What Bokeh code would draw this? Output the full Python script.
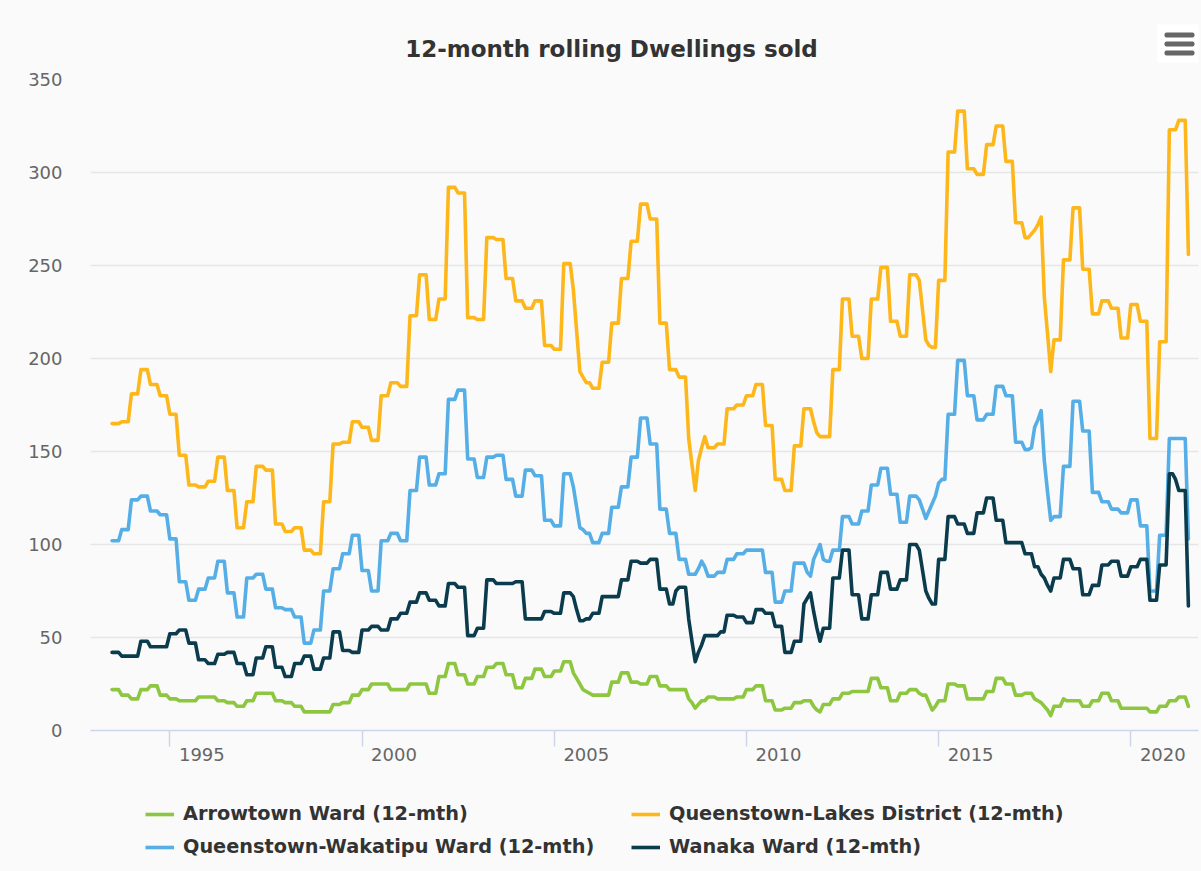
import pandas as pd
from bokeh.plotting import figure
from bokeh.layouts import column
from bokeh.models import (Range1d, FixedTicker, ColumnDataSource, Label, Legend, LegendItem,
                          BoxAnnotation, DatetimeTickFormatter)
from bokeh.embed import file_html
from bokeh.resources import INLINE

# Monthly 12-month rolling totals, July 1993 - July 2021 (one row = 12 months)
months = pd.date_range("1993-07-01", periods=337, freq="MS")

arrowtown = [
    22, 22, 22, 19, 19, 19, 17, 17, 17, 22, 22, 22,
    24, 24, 24, 19, 19, 19, 17, 17, 17, 16, 16, 16,
    16, 16, 16, 18, 18, 18, 18, 18, 18, 16, 16, 16,
    15, 15, 15, 13, 13, 13, 16, 16, 16, 20, 20, 20,
    20, 20, 20, 16, 16, 16, 15, 15, 15, 13, 13, 13,
    10, 10, 10, 10, 10, 10, 10, 10, 10, 14, 14, 14,
    15, 15, 15, 19, 19, 19, 22, 22, 22, 25, 25, 25,
    25, 25, 25, 22, 22, 22, 22, 22, 22, 25, 25, 25,
    25, 25, 25, 20, 20, 20, 29, 29, 29, 36, 36, 36,
    30, 30, 30, 25, 25, 25, 29, 29, 29, 34, 34, 34,
    36, 36, 36, 30, 30, 30, 23, 23, 23, 28, 28, 28,
    33, 33, 33, 29, 29, 29, 32, 32, 32, 37, 37, 37,
    31, 28, 25, 22, 21, 20, 19, 19, 19, 19, 19, 19,
    26, 26, 26, 31, 31, 31, 26, 26, 26, 25, 25, 25,
    29, 29, 29, 24, 24, 24, 22, 22, 22, 22, 22, 22,
    17, 15, 12, 14, 16, 16, 18, 18, 18, 17, 17, 17,
    17, 17, 17, 18, 18, 18, 22, 22, 22, 24, 24, 24,
    16, 16, 16, 11, 11, 11, 12, 12, 12, 15, 15, 15,
    16, 16, 16, 13, 11, 10, 14, 14, 14, 17, 17, 17,
    20, 20, 20, 21, 21, 21, 21, 21, 21, 28, 28, 28,
    23, 23, 23, 16, 16, 16, 20, 20, 20, 22, 22, 22,
    20, 19, 19, 15, 11, 13, 16, 16, 16, 25, 25, 25,
    24, 24, 24, 17, 17, 17, 17, 17, 17, 21, 21, 21,
    28, 28, 28, 25, 25, 25, 19, 19, 19, 20, 20, 20,
    17, 16, 15, 13, 11, 8, 13, 13, 13, 17, 16, 16,
    16, 16, 16, 13, 13, 13, 16, 16, 16, 20, 20, 20,
    16, 16, 16, 12, 12, 12, 12, 12, 12, 12, 12, 12,
    10, 10, 10, 13, 13, 13, 16, 16, 16, 18, 18, 18,
    13,
]

queenstown_lakes = [
    165, 165, 165, 166, 166, 166, 181, 181, 181, 194, 194, 194,
    186, 186, 186, 180, 180, 180, 170, 170, 170, 148, 148, 148,
    132, 132, 132, 131, 131, 131, 134, 134, 134, 147, 147, 147,
    129, 129, 129, 109, 109, 109, 123, 123, 123, 142, 142, 142,
    140, 140, 140, 111, 111, 111, 107, 107, 107, 109, 109, 109,
    97, 97, 97, 95, 95, 95, 123, 123, 123, 154, 154, 154,
    155, 155, 155, 166, 166, 166, 163, 163, 163, 156, 156, 156,
    180, 180, 180, 187, 187, 187, 185, 185, 185, 223, 223, 223,
    245, 245, 245, 221, 221, 221, 232, 232, 232, 292, 292, 292,
    289, 289, 289, 222, 222, 222, 221, 221, 221, 265, 265, 265,
    264, 264, 264, 243, 243, 243, 231, 231, 231, 227, 227, 227,
    231, 231, 231, 207, 207, 207, 205, 205, 205, 251, 251, 251,
    237, 215, 193, 190, 187, 187, 184, 184, 184, 198, 198, 198,
    219, 219, 219, 243, 243, 243, 263, 263, 263, 283, 283, 283,
    275, 275, 275, 219, 219, 219, 194, 194, 194, 190, 190, 190,
    157, 143, 129, 145, 152, 158, 152, 152, 152, 154, 154, 154,
    173, 173, 173, 175, 175, 175, 180, 180, 180, 186, 186, 186,
    164, 164, 164, 135, 135, 135, 129, 129, 129, 153, 153, 153,
    173, 173, 173, 166, 160, 158, 158, 158, 158, 194, 194, 194,
    232, 232, 232, 212, 212, 212, 200, 200, 200, 232, 232, 232,
    249, 249, 249, 220, 220, 220, 212, 212, 212, 245, 245, 245,
    242, 226, 210, 207, 206, 206, 242, 242, 242, 311, 311, 311,
    333, 333, 333, 302, 302, 302, 299, 299, 299, 315, 315, 315,
    325, 325, 325, 306, 306, 306, 273, 273, 273, 265, 265, 267,
    269, 272, 276, 233, 213, 193, 210, 210, 210, 253, 253, 253,
    281, 281, 281, 248, 248, 248, 224, 224, 224, 231, 231, 231,
    227, 227, 227, 211, 211, 211, 229, 229, 229, 220, 220, 220,
    157, 157, 157, 209, 209, 209, 323, 323, 323, 328, 328, 328,
    256,
]

wakatipu = [
    102, 102, 102, 108, 108, 108, 124, 124, 124, 126, 126, 126,
    118, 118, 118, 116, 116, 116, 103, 103, 103, 80, 80, 80,
    70, 70, 70, 76, 76, 76, 82, 82, 82, 91, 91, 91,
    74, 74, 74, 61, 61, 61, 82, 82, 82, 84, 84, 84,
    76, 76, 76, 66, 66, 66, 65, 65, 65, 61, 61, 61,
    47, 47, 47, 54, 54, 54, 75, 75, 75, 87, 87, 87,
    95, 95, 95, 105, 105, 105, 86, 86, 86, 75, 75, 75,
    102, 102, 102, 106, 106, 106, 102, 102, 102, 129, 129, 129,
    147, 147, 147, 132, 132, 132, 138, 138, 138, 178, 178, 178,
    183, 183, 183, 146, 146, 146, 136, 136, 136, 147, 147, 147,
    148, 148, 148, 135, 135, 135, 126, 126, 126, 140, 140, 140,
    137, 137, 137, 113, 113, 113, 110, 110, 110, 138, 138, 138,
    131, 120, 109, 108, 106, 106, 101, 101, 101, 106, 106, 106,
    120, 120, 120, 131, 131, 131, 147, 147, 147, 168, 168, 168,
    154, 154, 154, 119, 119, 119, 106, 106, 106, 92, 92, 92,
    84, 84, 84, 87, 91, 88, 83, 83, 83, 85, 85, 85,
    92, 92, 92, 95, 95, 95, 97, 97, 97, 97, 97, 97,
    85, 85, 85, 69, 69, 69, 75, 75, 75, 90, 90, 90,
    90, 85, 83, 92, 96, 100, 92, 91, 91, 97, 97, 97,
    115, 115, 115, 111, 111, 111, 118, 118, 118, 132, 132, 132,
    141, 141, 141, 127, 127, 127, 112, 112, 112, 126, 126, 126,
    124, 119, 114, 118, 122, 126, 133, 135, 135, 170, 170, 170,
    199, 199, 199, 180, 180, 180, 167, 167, 167, 170, 170, 170,
    185, 185, 185, 180, 180, 180, 155, 155, 155, 151, 151, 152,
    163, 167, 172, 145, 128, 113, 115, 115, 115, 142, 142, 142,
    177, 177, 177, 161, 161, 161, 128, 128, 128, 123, 123, 123,
    119, 119, 119, 117, 117, 117, 124, 124, 124, 110, 110, 110,
    75, 75, 75, 105, 105, 105, 157, 157, 157, 157, 157, 157,
    103,
]

wanaka = [
    42, 42, 42, 40, 40, 40, 40, 40, 40, 48, 48, 48,
    45, 45, 45, 45, 45, 45, 52, 52, 52, 54, 54, 54,
    47, 47, 47, 38, 38, 38, 36, 36, 36, 41, 41, 41,
    42, 42, 42, 36, 36, 36, 30, 30, 30, 39, 39, 39,
    45, 45, 45, 34, 34, 34, 29, 29, 29, 36, 36, 36,
    40, 40, 40, 33, 33, 33, 39, 39, 39, 53, 53, 53,
    43, 43, 43, 42, 42, 42, 54, 54, 54, 56, 56, 56,
    54, 54, 54, 60, 60, 60, 63, 63, 63, 69, 69, 69,
    74, 74, 74, 70, 70, 70, 67, 67, 67, 79, 79, 79,
    77, 77, 77, 51, 51, 51, 55, 55, 55, 81, 81, 81,
    79, 79, 79, 79, 79, 79, 80, 80, 80, 60, 60, 60,
    60, 60, 60, 64, 64, 64, 63, 63, 63, 74, 74, 74,
    72, 65, 59, 59, 60, 60, 63, 63, 63, 72, 72, 72,
    72, 72, 72, 81, 81, 81, 91, 91, 91, 90, 90, 90,
    92, 92, 92, 76, 76, 76, 68, 68, 75, 77, 77, 77,
    60, 48, 37, 42, 46, 51, 51, 51, 51, 51, 53, 53,
    62, 62, 62, 61, 61, 61, 58, 58, 58, 65, 65, 65,
    63, 63, 63, 56, 56, 56, 42, 42, 42, 48, 48, 48,
    68, 71, 74, 64, 55, 48, 55, 55, 55, 82, 82, 82,
    97, 97, 97, 73, 73, 73, 60, 60, 60, 73, 73, 73,
    85, 85, 85, 76, 76, 76, 81, 81, 81, 100, 100, 100,
    97, 86, 75, 71, 68, 68, 92, 92, 92, 115, 115, 115,
    111, 111, 111, 106, 106, 106, 117, 117, 117, 125, 125, 125,
    113, 113, 113, 101, 101, 101, 101, 101, 101, 95, 95, 95,
    88, 88, 84, 82, 78, 75, 82, 82, 82, 92, 92, 92,
    87, 87, 87, 73, 73, 73, 78, 78, 78, 89, 89, 89,
    91, 91, 91, 83, 83, 83, 88, 88, 88, 92, 92, 92,
    70, 70, 70, 89, 89, 89, 138, 138, 135, 129, 129, 129,
    67,
]

series_keys = ["arrowtown", "queenstown_lakes", "wakatipu", "wanaka"]
series_names = [
    "Arrowtown Ward (12-mth)",
    "Queenstown-Lakes District (12-mth)",
    "Queenstown-Wakatipu Ward (12-mth)",
    "Wanaka Ward (12-mth)",
]
series_colors = ["#8DC63F", "#FDB71A", "#56AEE6", "#0B3C4D"]

title_text = "12-month rolling Dwellings sold"
tick_years = [1995, 2000, 2005, 2010, 2015, 2020]
y_ticks = [0, 50, 100, 150, 200, 250, 300, 350]

FONT = "DejaVu Sans"
BG = "#fafafa"
LINE_W = 3.6
FRAME_LEFT = 90   # the three stacked panels share this left edge


def bare_figure(height):
    f = figure(width=1201, height=height, output_backend="svg", toolbar_location=None,
               x_range=Range1d(0, 1), y_range=Range1d(0, 1),
               x_axis_location=None, y_axis_location=None,
               min_border=0, outline_line_color=None,
               background_fill_color=BG, border_fill_color=BG)
    f.grid.visible = False
    return f


# ---- header: title and menu button ----
head = bare_figure(64)
head.add_layout(Label(
    x=611 - FRAME_LEFT, y=16, x_units="screen", y_units="screen", text=title_text,
    text_align="center", text_baseline="alphabetic",
    text_font=FONT, text_font_style="bold", text_font_size="23px", text_color="#333333",
))
head.add_layout(BoxAnnotation(
    left=1157 - FRAME_LEFT, right=1201 - FRAME_LEFT, top=40, bottom=2,
    left_units="screen", right_units="screen", top_units="screen", bottom_units="screen",
    fill_color="#ffffff", fill_alpha=1, line_color=None,
))
for cy in (29.5, 20.5, 11.5):
    head.add_layout(BoxAnnotation(
        left=1164 - FRAME_LEFT, right=1194 - FRAME_LEFT, top=cy + 2.4, bottom=cy - 2.4,
        left_units="screen", right_units="screen", top_units="screen", bottom_units="screen",
        fill_color="#666666", fill_alpha=1, line_color=None, border_radius=2,
    ))

# ---- main chart ----
p = figure(
    width=1201, height=726,
    output_backend="svg", toolbar_location=None,
    x_axis_type="datetime",
    x_range=Range1d(pd.Timestamp("1992-12-08"), pd.Timestamp("2021-10-05")),
    y_range=Range1d(0, 350),
    min_border_left=FRAME_LEFT, min_border_right=3, min_border_top=15, min_border_bottom=60,
    background_fill_color=BG, border_fill_color=BG, outline_line_color=None,
)

src = ColumnDataSource(dict(
    month=months,
    arrowtown=arrowtown,
    queenstown_lakes=queenstown_lakes,
    wakatipu=wakatipu,
    wanaka=wanaka,
))

for key, color in zip(series_keys, series_colors):
    p.line("month", key, source=src, line_color=color, line_width=LINE_W,
           line_join="round", line_cap="round")

p.xgrid.visible = False
p.ygrid.ticker = FixedTicker(ticks=y_ticks)
p.ygrid.grid_line_color = "#e6e6e6"
p.ygrid.grid_line_width = 1.5

p.yaxis.ticker = FixedTicker(ticks=y_ticks)
p.yaxis.axis_line_color = None
p.yaxis.major_tick_line_color = None
p.yaxis.minor_tick_line_color = None
p.yaxis.major_label_text_font = FONT
p.yaxis.major_label_text_font_size = "18px"
p.yaxis.major_label_text_color = "#666666"
p.yaxis.major_label_standoff = 22

# tick marks at each January, year labels set just to the right of them
year_starts = [pd.Timestamp(f"{y}-01-01") for y in tick_years]
label_shift = pd.Timedelta(days=304)
tick_ms = [t.value / 1e6 for t in year_starts]
label_ms = [(t + label_shift).value / 1e6 for t in year_starts]
p.xaxis.ticker = FixedTicker(ticks=label_ms, minor_ticks=tick_ms)
p.xaxis.formatter = DatetimeTickFormatter(years="%Y", months="%Y", days="%Y")
p.xaxis.axis_line_color = "#ccd6eb"
p.xaxis.axis_line_width = 1.5
p.xaxis.major_tick_line_color = None
p.xaxis.major_tick_in = 0
p.xaxis.major_tick_out = 0
p.xaxis.minor_tick_line_color = "#ccd6eb"
p.xaxis.minor_tick_line_width = 1.5
p.xaxis.minor_tick_in = 0
p.xaxis.minor_tick_out = 16
p.xaxis.major_label_standoff = 1
p.xaxis.major_label_text_font = FONT
p.xaxis.major_label_text_font_size = "18px"
p.xaxis.major_label_text_color = "#666666"

# ---- legend strip ----
foot = bare_figure(81)
keys = []
for color in series_colors:
    # single off-range point: only the legend swatch is drawn
    keys.append(foot.line(x=[-1], y=[-1], line_color=color, line_width=LINE_W))


def make_legend(idx, loc):
    return Legend(
        items=[LegendItem(label=series_names[i], renderers=[keys[i]]) for i in idx],
        location=loc, orientation="vertical",
        label_text_font=FONT, label_text_font_style="bold", label_text_font_size="19.3px",
        label_text_color="#333333", label_standoff=9, label_height=20,
        glyph_width=29, glyph_height=20, spacing=10, padding=0, margin=0,
        border_line_color=None, background_fill_alpha=0,
    )


foot.add_layout(make_legend([0, 2], (145 - FRAME_LEFT, 13)))
foot.add_layout(make_legend([1, 3], (631 - FRAME_LEFT, 13)))

layout = column(head, p, foot, spacing=0, styles={"background-color": BG})
open("out.html", "w").write(file_html(layout, INLINE))
